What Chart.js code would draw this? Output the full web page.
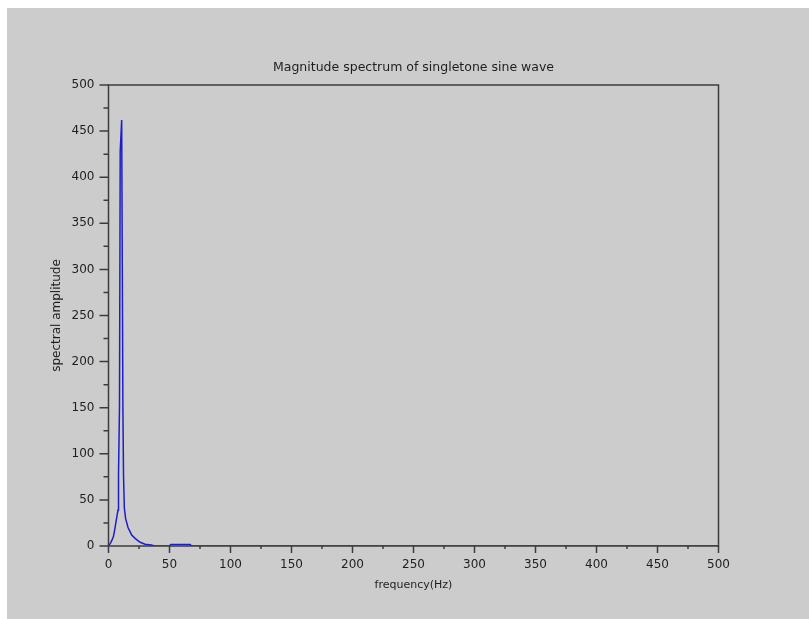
<!DOCTYPE html>
<html>
<head>
<meta charset="utf-8">
<script src="https://cdn.jsdelivr.net/npm/chart.js@4"></script>
<style>
  html, body { margin: 0; padding: 0; background: #ffffff; }
  #wrap { position: absolute; left: 7px; top: 8px; width: 802px; height: 611px; background: #cccccc; }
</style>
</head>
<body>
<div id="wrap"><canvas id="myChart" width="802" height="611"></canvas></div>
<script>
// spectrum (Hz, amplitude)
let freqHz    = [0, 2, 4, 5, 6, 7, 7.8, 8.2, 9, 9.6, 10.8, 11.8, 12.3, 13, 14, 16, 19, 22, 26, 30, 35, 38, 50, 51, 67, 68, 500];
let amplitude = [0, 4, 10, 17, 25, 33, 39, 77, 150, 428, 462, 150, 77, 41, 30, 20, 12, 8, 4, 2, 1, 0, 0, 1.5, 1.5, 0, 0];

let xTicks = [0, 50, 100, 150, 200, 250, 300, 350, 400, 450, 500];
let yTicks = [0, 50, 100, 150, 200, 250, 300, 350, 400, 450, 500];

let axisColor = '#3c3c3c';
let textColor = '#1e1e1e';

let points = freqHz.map(function (f, i) { return { x: f, y: amplitude[i] } });

// box round the plot and the tick marks (major + minor)
let frameAndTicks = {
    id: 'frameAndTicks',
    afterDraw: function (chart) {
        let ctx = chart.ctx;
        let a = chart.chartArea;
        let x = chart.scales.x;
        let y = chart.scales.y;
        ctx.save();
        ctx.strokeStyle = axisColor;
        ctx.lineWidth = 1.5;
        ctx.strokeRect(a.left, a.top, a.right - a.left, a.bottom - a.top);
        ctx.beginPath();
        xTicks.forEach(function (v, i) {
            let px = x.getPixelForValue(v);
            ctx.moveTo(px, a.bottom);
            ctx.lineTo(px, a.bottom + 7);
            if (i < xTicks.length - 1) {
                let mx = x.getPixelForValue(v + 25);
                ctx.moveTo(mx, a.bottom);
                ctx.lineTo(mx, a.bottom + 3);
            }
        });
        yTicks.forEach(function (v, i) {
            let py = y.getPixelForValue(v);
            ctx.moveTo(a.left, py);
            ctx.lineTo(a.left - 9, py);
            if (i < yTicks.length - 1) {
                let my = y.getPixelForValue(v + 25);
                ctx.moveTo(a.left, my);
                ctx.lineTo(a.left - 5, my);
            }
        });
        ctx.stroke();
        ctx.restore();
    }
};

Chart.defaults.font.family = '"DejaVu Sans", sans-serif';
Chart.defaults.color = textColor;

let myChart = new Chart('myChart', {
    type: 'line',
    data: {
        datasets: [
            {
                data: points,
                borderColor: 'rgb(30, 30, 200)',
                borderWidth: 1.5,
                pointRadius: 0,
                tension: 0,
                fill: false
            }
        ]
    },
    options: {
        responsive: false,
        animation: false,
        devicePixelRatio: 1,
        layout: {
            padding: { left: 0, right: 90.5, top: 0, bottom: 0 }
        },
        plugins: {
            legend: { display: false },
            tooltip: { enabled: false },
            title: {
                display: true,
                fullSize: false,
                text: 'Magnitude spectrum of singletone sine wave',
                color: textColor,
                font: { size: 12.5, weight: 'normal' },
                padding: { top: 52, bottom: 10 }
            }
        },
        scales: {
            x: {
                type: 'linear',
                min: 0,
                max: 500,
                afterFit: function (scale) { scale.height = 73 },
                grid: { display: false },
                border: { display: false },
                ticks: {
                    stepSize: 50,
                    maxRotation: 0,
                    padding: 4,
                    font: { size: 12 },
                    color: textColor
                },
                title: {
                    display: true,
                    text: 'frequency(Hz)',
                    color: textColor,
                    font: { size: 11 },
                    padding: { top: 0, bottom: 27.4 }
                }
            },
            y: {
                min: 0,
                max: 500,
                afterFit: function (scale) { scale.width = 101.5 },
                grid: { display: false },
                border: { display: false },
                ticks: {
                    stepSize: 50,
                    padding: 6,
                    font: { size: 12 },
                    color: textColor
                },
                title: {
                    display: true,
                    text: 'spectral amplitude',
                    color: textColor,
                    font: { size: 12 },
                    padding: { top: 42.8, bottom: 0 }
                }
            }
        }
    },
    plugins: [frameAndTicks]
});
</script>
</body>
</html>
